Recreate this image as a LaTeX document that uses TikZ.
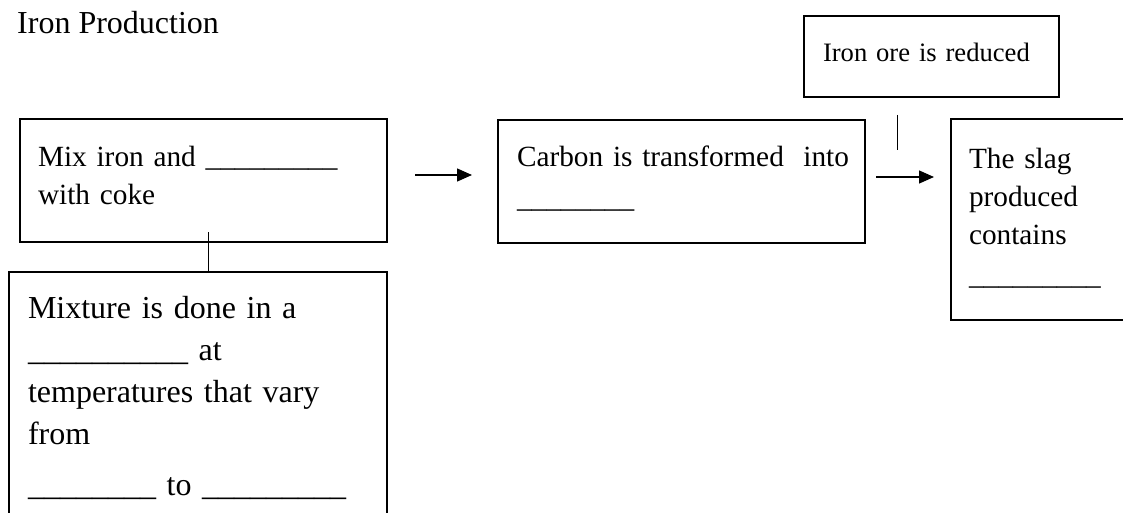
\documentclass[tikz,border=0pt]{standalone}
\usepackage{fontspec}
\setmainfont{Liberation Serif}
\usepackage{tikz}
\usetikzlibrary{arrows.meta}
\newcommand{\stepfont}{\fontsize{29.3pt}{38pt}\selectfont}
\newcommand{\bigstepfont}{\fontsize{32pt}{42pt}\selectfont}
\newcommand{\blank}[1]{\foreach \k in {1,...,#1}{\_}}
\tikzstyle{stepbox}=[draw, line width=1.4pt, inner xsep=19pt, inner ysep=0pt, outer sep=0pt,
                     align=left, anchor=north west, font=\stepfont]
\tikzstyle{flow}=[line width=1.3pt, -{Triangle[length=15pt, width=13pt]}]
\tikzstyle{tie}=[line width=1pt]

\begin{document}
\begin{tikzpicture}[x=1pt, y=-1pt]
    \useasboundingbox (0, 0) rectangle (1123, 513);
    \clip (0, 0) rectangle (1123, 513);
    \node[anchor=base west, inner sep=0, font=\bigstepfont] (title) at (17, 34) {Iron Production};
    % left column
    \node[stepbox, inner xsep=18pt, text width=331pt, text height=48pt, text depth=75pt] (mix) at (20, 119)
        {Mix iron and \blank{9}\\with coke};
    \node[stepbox, font=\bigstepfont, text width=340pt, text height=46pt, text depth=250pt] (furnace) at (9, 272)
        {Mixture is done in a\\\blank{10} at\\temperatures that vary\\from\\[9pt]\blank{8} to \blank{9}};
    % middle and right
    \node[stepbox, text width=329pt, text height=47pt, text depth=76pt] (carbon) at (498, 120)
        {\mbox{Carbon is transformed\ \ into}\\[2pt]\blank{8}};
    \node[stepbox, font=\fontsize{26.6pt}{34pt}\selectfont, text width=217pt, text height=46pt, text depth=35pt] (ore) at (804, 16)
        {Iron ore is reduced};
    \node[stepbox, inner xsep=18pt, text width=200pt, text height=49pt, text depth=152pt] (slag) at (951, 119)
        {The slag\\produced\\contains\\[2pt]\blank{9}};
    \draw[tie] ([xshift=4.5pt, yshift=10pt]mix.south) -- ([xshift=4.5pt]mix.south |- furnace.north);
    \coordinate (a1s) at (415, 175);
    \coordinate (a1e) at (472, 175);
    \coordinate (a2s) at (876, 177);
    \coordinate (a2e) at (934, 177);
    \coordinate (t2s) at (897, 115);
    \coordinate (t2e) at (897, 150);
    \draw[flow] (a1s) -- (a1e);
    \draw[flow] (a2s) -- (a2e);
    \draw[tie] (t2s) -- (t2e);
\end{tikzpicture}
\end{document}
